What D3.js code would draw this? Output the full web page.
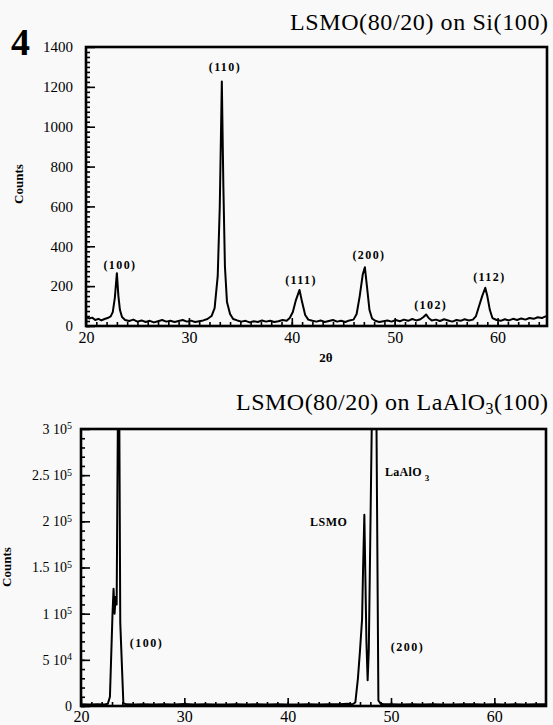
<!DOCTYPE html>
<html>
<head>
<meta charset="utf-8">
<script src="https://cdn.jsdelivr.net/npm/d3@7"></script>
<style>
body{margin:0;background:#f9f9f9;}
svg text{font-family:"Liberation Serif","DejaVu Serif",serif;}
.axis path{display:none}
.axis line{stroke:#000;stroke-width:1.6}
</style>
</head>
<body>
<svg width="553" height="725"></svg>
<script>
// LSMO on Si(100) scan
var siTheta=[20.0,20.3,20.6,20.9,21.2,21.5,21.8,22.1,22.4,22.6,22.8,23.0,23.15,23.3,23.5,23.8,
  24.2,24.6,25.0,25.4,25.8,26.2,26.6,27.0,27.4,27.8,28.2,28.6,29.0,29.4,29.8,30.2,
  30.6,31.0,31.4,31.8,32.2,32.5,32.8,33.0,33.2,33.35,33.5,33.7,34.0,34.3,34.7,35.1,
  35.5,35.9,36.3,36.7,37.1,37.5,37.9,38.3,38.7,39.1,39.5,39.8,40.1,40.4,40.75,41.0,
  41.3,41.6,42.0,42.4,42.8,43.2,43.6,44.0,44.4,44.8,45.2,45.6,46.0,46.3,46.6,46.9,
  47.1,47.3,47.55,47.8,48.1,48.5,48.9,49.3,49.7,50.1,50.5,50.9,51.3,51.7,52.1,52.5,
  52.8,53.05,53.3,53.6,54.0,54.4,54.8,55.2,55.6,56.0,56.4,56.8,57.2,57.6,57.9,58.2,
  58.5,58.8,59.0,59.25,59.5,59.9,60.3,60.7,61.1,61.5,61.9,62.3,62.7,63.1,63.5,63.9,
  64.3,64.7]
var siCounts=[45,38,42,30,36,28,35,40,48,70,140,265,150,80,45,30,
  25,32,22,28,20,26,18,24,30,22,26,20,25,30,22,27,
  20,24,28,35,50,90,250,600,1227,700,300,120,60,35,28,22,
  26,18,24,20,28,22,26,20,24,30,26,40,70,130,181,120,
  55,32,26,22,28,20,25,30,22,26,20,28,32,60,150,260,
  295,200,80,38,26,20,24,28,22,30,24,32,26,35,28,34,
  45,58,40,28,32,25,34,28,22,30,26,34,28,32,50,100,
  150,192,150,80,40,30,26,34,28,36,30,38,32,40,36,44,
  40,50]

// LSMO on LaAlO3(100) scan
var laoTheta=[20.0,20.8,21.6,22.3,22.6,22.8,23.05,23.15,23.25,23.35,23.45,23.65,23.8,24.1,24.4,25.2,
  26.0,27.0,28.0,29.0,30.0,31.0,32.0,33.0,34.0,35.0,36.0,37.0,38.0,39.0,40.0,41.0,
  42.0,43.0,44.0,45.0,45.8,46.2,46.4,46.55,46.8,47.0,47.2,47.3,47.42,47.52,47.62,47.74,
  47.85,48.17,48.35,48.58,48.78,49.0,49.3,50.0,51.0,52.0,53.0,54.0,55.0,56.0,57.0,58.0,
  59.0,60.0,61.0,62.0,63.0,64.0,65.0]
var laoCounts=[1800,1500,2000,1700,2500,10000,100000,127000,100000,118000,110000,450000,90000,3000,1800,1500,
  2000,1600,1800,1500,2200,1600,1900,1500,1700,2000,1500,1800,1600,1900,1700,1500,
  1800,1600,1900,2000,2400,1800,2600,4000,30000,60000,94000,150000,207000,140000,70000,28000,
  60000,330000,700000,330000,6000,2500,1800,2000,1600,1800,1500,1900,1700,1600,2000,1800,
  1700,1900,1600,1800,1700,2000,1800]

var xTicks=[20,30,40,50,60]
var siYTicks=[0,200,400,600,800,1000,1200,1400]
var laoYTicks=[0,50000,100000,150000,200000,250000,300000]
var laoYMant=["0","5","1","1.5","2","2.5","3"]
var laoYExp=["","4","5","5","5","5","5"]

var siPeakNames=["(100)","(110)","(111)","(200)","(102)","(112)"]
var siPeakTheta=[23.3,33.5,40.9,47.5,53.5,59.2]
var siPeakCounts=[286,1280,211,336,85,226]

var svg=d3.select("svg")

var xTop=d3.scaleLinear().domain([20,64.8]).range([86,547])
var yTop=d3.scaleLinear().domain([0,1400]).range([326,47])
var xBot=d3.scaleLinear().domain([20,65]).range([81,546])
var yBot=d3.scaleLinear().domain([0,300000]).range([706,429])

var drawFrame=function(x,y)
{
  svg.append("rect")
    .attr("x",x.range()[0]).attr("y",y.range()[1])
    .attr("width",x.range()[1]-x.range()[0])
    .attr("height",y.range()[0]-y.range()[1])
    .attr("fill","none").attr("stroke","#000").attr("stroke-width",2.6)
}

var drawAxes=function(x,y,yMajor,yMinor,yPad,xPad)
{
  var y0=y.range()[0], x0=x.range()[0]
  svg.append("g").attr("class","axis")
    .attr("transform","translate(0,"+y0+")")
    .call(d3.axisBottom(x).tickValues(d3.range(21,65)).tickSize(-4).tickFormat(""))
  svg.append("g").attr("class","axis")
    .attr("transform","translate(0,"+y0+")")
    .call(d3.axisBottom(x).tickValues(xTicks).tickSize(-8).tickPadding(xPad).tickFormat(d3.format("d")))
    .attr("font-size",16)
    .selectAll("text").attr("fill","#000")
  svg.append("g").attr("class","axis")
    .attr("transform","translate("+x0+",0)")
    .call(d3.axisLeft(y).tickValues(yMinor).tickSize(-4).tickFormat(""))
  return svg.append("g").attr("class","axis")
    .attr("transform","translate("+x0+",0)")
    .call(d3.axisLeft(y).tickValues(yMajor).tickSize(-9).tickPadding(yPad).tickFormat(d3.format("d")))
}

// ---- top panel
drawFrame(xTop,yTop)
var ya=drawAxes(xTop,yTop,siYTicks,d3.range(0,1400,25),13,6)
ya.attr("font-size",15).selectAll("text").attr("fill","#000")

svg.append("path")
  .datum(d3.zip(siTheta,siCounts))
  .attr("fill","none").attr("stroke","#000").attr("stroke-width",2)
  .attr("stroke-linejoin","round")
  .attr("d",d3.line().x(function(d){return xTop(d[0])}).y(function(d){return yTop(d[1])}))

svg.selectAll(".silab")
  .data(siPeakNames)
  .enter().append("text")
  .attr("x",function(d,i){return xTop(siPeakTheta[i])})
  .attr("y",function(d,i){return yTop(siPeakCounts[i])})
  .attr("text-anchor","middle").attr("font-size",12).attr("font-weight","bold")
  .attr("letter-spacing",1.4)
  .text(function(d){return d})

svg.append("text").attr("x",548).attr("y",30).attr("text-anchor","end")
  .attr("font-size",24).attr("textLength",258).attr("lengthAdjust","spacing")
  .text("LSMO(80/20) on Si(100)")
svg.append("text").attr("x",11).attr("y",55).attr("font-size",38).attr("font-weight","bold").text("4")
svg.append("text").attr("transform","translate(23,184) rotate(-90)")
  .attr("text-anchor","middle").attr("font-size",13).attr("font-weight","bold").text("Counts")
svg.append("text").attr("x",326).attr("y",362).attr("text-anchor","middle")
  .attr("font-size",13).attr("font-weight","bold").text("2θ")

// ---- bottom panel
svg.append("clipPath").attr("id","clipBot").append("rect")
  .attr("x",81).attr("y",429).attr("width",465).attr("height",277)

svg.append("path")
  .datum(d3.zip(laoTheta,laoCounts))
  .attr("clip-path","url(#clipBot)")
  .attr("fill","none").attr("stroke","#000").attr("stroke-width",2)
  .attr("stroke-linejoin","round")
  .attr("d",d3.line().x(function(d){return xBot(d[0])}).y(function(d){return yBot(d[1])}))

drawFrame(xBot,yBot)
var yb=drawAxes(xBot,yBot,laoYTicks,d3.range(0,300000,10000),9,4.5)
yb.attr("font-size",14).selectAll(".tick text").attr("fill","#000")
  .each(function(d,i){
    var t=d3.select(this).text(null)
    t.append("tspan").text(laoYMant[i]+(laoYExp[i]?" 10":""))
    if(laoYExp[i]) t.append("tspan").attr("dy","-0.45em").attr("font-size",10).text(laoYExp[i])
  })

svg.append("text").attr("x",xBot(26.35)).attr("y",yBot(64000)).attr("text-anchor","middle")
  .attr("font-size",12).attr("font-weight","bold").attr("letter-spacing",1.5).text("(100)")
svg.append("text").attr("x",xBot(51.6)).attr("y",yBot(60000)).attr("text-anchor","middle")
  .attr("font-size",12).attr("font-weight","bold").attr("letter-spacing",1.5).text("(200)")
svg.append("text").attr("x",310).attr("y",yBot(194600))
  .attr("font-size",12).attr("font-weight","bold").attr("letter-spacing",0.5).text("LSMO")
var lao=svg.append("text").attr("x",385).attr("y",yBot(249000))
  .attr("font-size",12).attr("font-weight","bold").attr("letter-spacing",0.3)
lao.append("tspan").text("LaAlO")
lao.append("tspan").attr("dx",3).attr("dy",5).attr("font-size",9).text("3")

var t2=svg.append("text").attr("x",548).attr("y",410).attr("text-anchor","end")
  .attr("font-size",24).attr("textLength",312).attr("lengthAdjust","spacing")
t2.append("tspan").text("LSMO(80/20) on LaAlO")
t2.append("tspan").attr("dy",4).attr("font-size",16).text("3")
t2.append("tspan").attr("dy",-4).text("(100)")

svg.append("text").attr("transform","translate(11,567) rotate(-90)")
  .attr("text-anchor","middle").attr("font-size",13).attr("font-weight","bold").text("Counts")
</script>
</body>
</html>
